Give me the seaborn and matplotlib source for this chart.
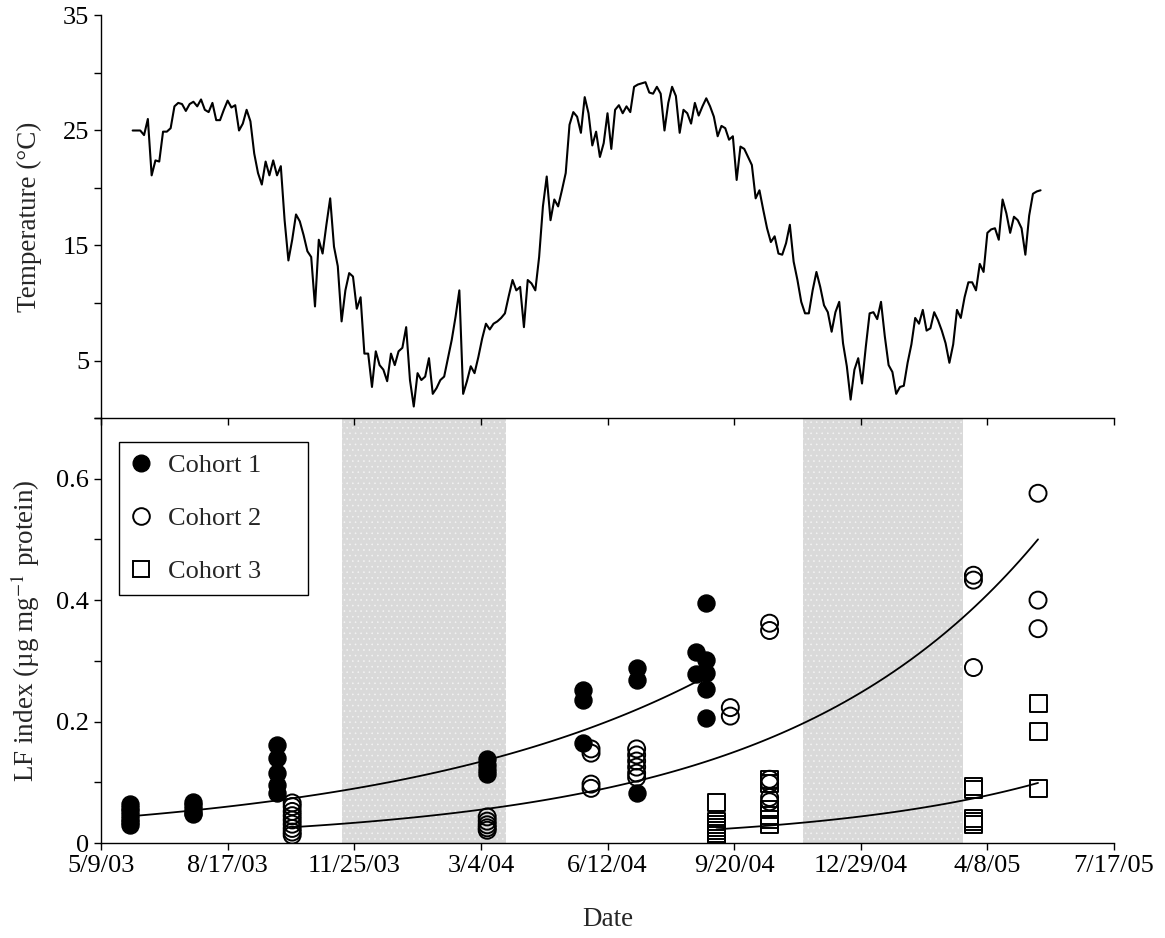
import numpy as np
import pandas as pd
import matplotlib
matplotlib.use("Agg")
import matplotlib.pyplot as plt
from matplotlib.lines import Line2D
import seaborn as sns

# ---------------- data ----------------
# water temperature (deg C), sampled every 3 days starting 6/3/03
temp_start = "6/3/03"
temp_step_days = 3
temp_c = [
    25.0, 25.0, 25.0, 24.6, 26.0, 21.1, 22.4, 22.3, 24.9, 24.9,
    25.2, 27.1, 27.4, 27.3, 26.7, 27.3, 27.5, 27.1, 27.7, 26.8,
    26.6, 27.4, 25.9, 25.9, 26.8, 27.6, 27.0, 27.2, 25.0, 25.6,
    26.8, 25.8, 23.0, 21.3, 20.3, 22.3, 21.1, 22.4, 21.1, 21.9,
    17.2, 13.7, 15.5, 17.7, 17.1, 15.9, 14.5, 14.0, 9.7, 15.5,
    14.3, 16.8, 19.1, 14.9, 13.2, 8.4, 11.1, 12.6, 12.3, 9.5,
    10.5, 5.6, 5.6, 2.7, 5.8, 4.6, 4.2, 3.2, 5.6, 4.6,
    5.8, 6.1, 7.9, 3.3, 1.0, 3.9, 3.3, 3.6, 5.2, 2.1,
    2.6, 3.3, 3.6, 5.2, 6.8, 8.8, 11.1,
    2.1, 3.2, 4.5, 3.9, 5.3, 6.9, 8.2, 7.7, 8.2, 8.4,
    8.7, 9.1, 10.6, 12.0, 11.1, 11.4, 7.9, 12.0, 11.7, 11.1,
    14.0, 18.4, 21.0, 17.2, 19.0, 18.4, 19.8, 21.3, 25.5, 26.6,
    26.2, 24.8, 27.9, 26.5, 23.7, 24.9, 22.7, 23.9, 26.5, 23.4,
    26.8, 27.2, 26.5, 27.1, 26.6, 28.8, 29.0, 29.1, 29.2, 28.3,
    28.2, 28.8, 28.2, 25.0, 27.4, 28.8, 28.0, 24.8, 26.8, 26.5,
    25.6, 27.4, 26.3, 27.1, 27.8, 27.1, 26.2, 24.5, 25.4, 25.2,
    24.2, 24.5, 20.7, 23.6, 23.4, 22.7, 22.0, 19.1, 19.8, 18.1,
    16.5, 15.3, 15.8, 14.3, 14.2, 15.2, 16.8, 13.6, 12.0,
    10.1, 9.1, 9.1, 11.1, 12.7, 11.4, 9.8, 9.2, 7.5, 9.2,
    10.1, 6.5, 4.5, 1.6, 4.2, 5.2, 3.0, 6.2, 9.1, 9.2,
    8.6, 10.1, 7.1, 4.6, 4.0, 2.1, 2.7, 2.8, 4.8, 6.4,
    8.7, 8.2, 9.4, 7.6, 7.8, 9.2, 8.5, 7.6, 6.5, 4.8,
    6.4, 9.4, 8.7, 10.5, 11.8, 11.8, 11.1, 13.4, 12.7, 16.1,
    16.4, 16.5, 15.5, 19.0, 17.8, 16.1, 17.5, 17.2, 16.5, 14.2,
    17.6, 19.5, 19.7, 19.8,
]

tick_labels = ["5/9/03", "8/17/03", "11/25/03", "3/4/04", "6/12/04",
               "9/20/04", "12/29/04", "4/8/05", "7/17/05"]

winter_start = ["11/15/03", "11/13/04"]
winter_end = ["3/24/04", "3/20/05"]

c1_dates = (["6/1/03"] * 7 + ["7/21/03"] * 5 + ["9/25/03"] * 5 + ["3/9/04"] * 4
            + ["5/24/04"] * 3 + ["7/5/04"] * 3 + ["8/21/04"] * 2 + ["8/29/04"] * 5)
c1_lf = [0.064, 0.058, 0.052, 0.046, 0.040, 0.035, 0.030,
         0.068, 0.062, 0.056, 0.050, 0.047,
         0.162, 0.140, 0.115, 0.095, 0.082,
         0.138, 0.128, 0.120, 0.114,
         0.252, 0.235, 0.165,
         0.288, 0.268, 0.082,
         0.315, 0.278,
         0.396, 0.302, 0.280, 0.253, 0.206]

c2_dates = (["10/7/03"] * 9 + ["3/9/04"] * 5 + ["5/30/04"] * 4 + ["7/5/04"] * 6
            + ["9/17/04"] * 2 + ["10/18/04"] * 6 + ["3/28/05"] * 3 + ["5/18/05"] * 3)
c2_lf = [0.066, 0.060, 0.052, 0.045, 0.038, 0.031, 0.024, 0.018, 0.013,
         0.043, 0.036, 0.030, 0.025, 0.021,
         0.155, 0.148, 0.097, 0.090,
         0.155, 0.145, 0.135, 0.125, 0.115, 0.108,
         0.223, 0.209,
         0.362, 0.350, 0.105, 0.098, 0.075, 0.068,
         0.441, 0.433, 0.289,
         0.576, 0.400, 0.353]

c3_dates = (["9/6/04"] * 7 + ["10/18/04"] * 6 + ["3/28/05"] * 5 + ["5/18/05"] * 3)
c3_lf = [0.066, 0.035, 0.030, 0.025, 0.020, 0.016, 0.012,
         0.105, 0.098, 0.055, 0.046, 0.038, 0.030,
         0.093, 0.088, 0.041, 0.036, 0.031,
         0.230, 0.183, 0.090]

cohort_names = ["Cohort 1", "Cohort 2", "Cohort 3"]

# exponential fits: LF = a * exp(b * days since fit start)
fit_start = ["6/1/03", "10/7/03", "9/6/04"]
fit_end = ["8/21/04", "5/18/05", "5/18/05"]
fit_a = [0.044, 0.026, 0.0225]
fit_b = [0.00402, 0.00502, 0.00583]

# ---------------- helpers ----------------
def to_dt(s):
    return pd.to_datetime(s, format="%m/%d/%y")

# ---------------- style ----------------
sns.set_theme(style="ticks")
plt.rcParams["font.family"] = ["Liberation Serif", "DejaVu Serif"]
plt.rcParams["mathtext.fontset"] = "stix"
plt.rcParams["axes.linewidth"] = 1.0
plt.rcParams["xtick.major.width"] = 1.0
plt.rcParams["ytick.major.width"] = 1.0
plt.rcParams["xtick.major.size"] = 5
plt.rcParams["ytick.major.size"] = 5
plt.rcParams["hatch.linewidth"] = 0.4

FS = 19
LFS = 19.5
W, H = 1165, 938
fig = plt.figure(figsize=(W / 100, H / 100), dpi=100)
ax_t = fig.add_axes([101 / W, 1 - 418 / H, 1013 / W, 402.5 / H])
ax_b = fig.add_axes([101 / W, 1 - 843 / H, 1013 / W, 425 / H], sharex=ax_t)
ax_t.set_zorder(2)
ax_t.patch.set_alpha(0)

# ---------------- top: temperature ----------------
temp_dates = to_dt(temp_start) + pd.to_timedelta(np.arange(len(temp_c)) * temp_step_days, unit="D")
sns.lineplot(x=temp_dates, y=temp_c, ax=ax_t, color="black", linewidth=1.5)
ax_t.set_ylim(0, 35)
ax_t.set_yticks(np.arange(0, 36, 5))
ax_t.set_yticklabels(["" if v % 10 == 0 else str(v) for v in range(0, 36, 5)])
ax_t.set_ylabel("Temperature (\u00b0C)", fontsize=LFS)
ax_t.spines["top"].set_visible(False)
ax_t.spines["right"].set_visible(False)
ax_t.tick_params(axis="x", labelbottom=False, direction="out", colors="black")
ax_t.tick_params(axis="y", labelsize=FS, direction="out", colors="black")
ax_t.set_xlabel("")

# ---------------- bottom: LF index ----------------
for s, e in zip(winter_start, winter_end):
    ax_b.axvspan(to_dt(s), to_dt(e), facecolor="#d9d9d9", edgecolor="#f4f4f4",
                 hatch="...", linewidth=0, zorder=0)

for st, en, a, b in zip(fit_start, fit_end, fit_a, fit_b):
    d0, d1 = to_dt(st), to_dt(en)
    days = np.linspace(0, (d1 - d0).days, 120)
    xs = d0 + pd.to_timedelta(days, unit="D")
    ys = a * np.exp(b * days)
    sns.lineplot(x=xs, y=ys, ax=ax_b, color="black", linewidth=1.3, zorder=2)

ms = 150
sns.scatterplot(x=to_dt(c1_dates), y=c1_lf, ax=ax_b, marker="o", s=ms,
                color="black", edgecolor="black", linewidth=1.0, zorder=3)
sns.scatterplot(x=to_dt(c2_dates), y=c2_lf, ax=ax_b, marker="o", s=ms,
                facecolor="none", edgecolor="black", linewidth=1.4, zorder=3)
sns.scatterplot(x=to_dt(c3_dates), y=c3_lf, ax=ax_b, marker="s", s=ms,
                facecolor="none", edgecolor="black", linewidth=1.4, zorder=3)

ax_b.set_ylim(0, 0.7)
yt = np.round(np.arange(0, 0.71, 0.1), 1)
ax_b.set_yticks(yt)
ax_b.set_yticklabels(["0" if v == 0 else (f"{v:.1f}" if round(v * 10) % 2 == 0 else "") for v in yt])
ax_b.set_ylabel("LF index (\u00b5g mg$^{-1}$ protein)", fontsize=LFS)
ax_b.set_xlabel("Date", fontsize=LFS)
ax_b.spines["top"].set_visible(False)
ax_b.spines["right"].set_visible(False)

tick_dates = to_dt(tick_labels)
ax_b.set_xlim(tick_dates[0], tick_dates[-1])
ax_b.set_xticks(tick_dates)
ax_b.set_xticklabels(tick_labels)
ax_b.tick_params(axis="both", labelsize=FS, direction="out", colors="black")
ax_b.tick_params(axis="x", labelbottom=True)

for ax in (ax_t, ax_b):
    ax.yaxis.set_label_coords(-0.058, 0.5)
    for sp in ax.spines.values():
        sp.set_color("black")
ax_b.xaxis.set_label_coords(0.5, -0.15)

handles = [
    Line2D([], [], marker="o", linestyle="none", markersize=12,
           markerfacecolor="black", markeredgecolor="black"),
    Line2D([], [], marker="o", linestyle="none", markersize=12,
           markerfacecolor="none", markeredgecolor="black", markeredgewidth=1.4),
    Line2D([], [], marker="s", linestyle="none", markersize=12,
           markerfacecolor="none", markeredgecolor="black", markeredgewidth=1.4),
]
leg = ax_b.legend(handles, cohort_names, loc="upper left",
                  bbox_to_anchor=(18 / 1013, 0.3, 189 / 1013, 0.644),
                  mode="expand", borderaxespad=0, fontsize=19,
                  frameon=True, fancybox=False, edgecolor="black",
                  handlelength=0.8, handletextpad=0.6, labelspacing=1.12,
                  borderpad=0.45)
leg.get_frame().set_linewidth(1.0)
leg.get_frame().set_facecolor("white")
leg.get_frame().set_alpha(1)

fig.savefig("out.png", dpi=100, facecolor="white")
